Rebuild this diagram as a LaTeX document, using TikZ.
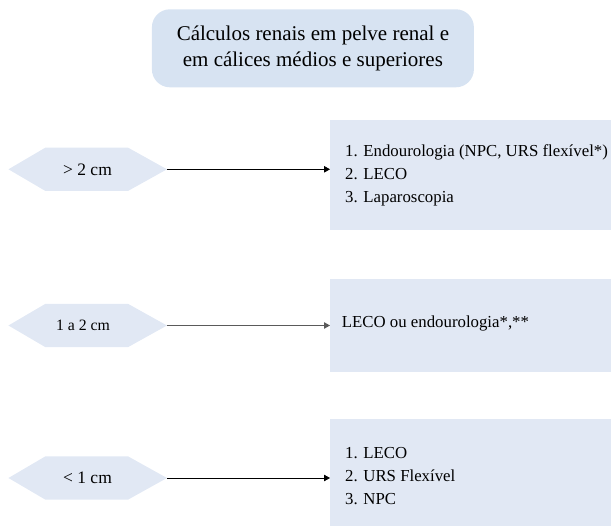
\documentclass[tikz,border=0pt]{standalone}
\usepackage{fontspec}
\setmainfont{Liberation Serif}
\usetikzlibrary{arrows.meta,backgrounds}
\definecolor{titlefill}{HTML}{D7E3F2}
\definecolor{boxfill}{HTML}{E1E8F4}
\definecolor{arrgray}{HTML}{5A5A5A}
\newcommand{\hexfill}[1]{%
  \begin{pgfonlayer}{background}
  \fill[boxfill] (#1.west) -- ([xshift=37pt]#1.north west) -- ([xshift=-39pt]#1.north east) -- (#1.east)
     -- ([xshift=-39pt]#1.south east) -- ([xshift=37pt]#1.south west) -- cycle;
  \end{pgfonlayer}}
\begin{document}
\begin{tikzpicture}[x=1pt,y=-1pt,
  titlebox/.style={fill=titlefill,draw=none,rounded corners=18pt,minimum width=322pt,minimum height=78pt,align=center,inner sep=0pt,font=\fontsize{21}{25.3}\selectfont},
  hexbox/.style={rectangle,draw=none,minimum width=158.5pt,minimum height=43.4pt,inner sep=0pt,outer sep=0pt},
  optbox/.style={fill=boxfill,draw=none,anchor=north west,minimum width=281pt,inner sep=0pt},
  opttext/.style={anchor=west,align=left,inner sep=0pt,font=\fontsize{16.8}{23}\selectfont},
  conn/.style={line width=0.9pt,-{Triangle[length=6pt,width=6.5pt]}}
]
\useasboundingbox (0,0) rectangle (611,526);
\node[titlebox] (title) at (312.9,48.3) {Cálculos renais em pelve renal e\\em cálices médios e superiores};

\node[hexbox] (h1) at (87.7,169.3) {};
\node[hexbox] (h2) at (87.7,325.5) {};
\node[hexbox] (h3) at (87.7,478) {};
\hexfill{h1}\hexfill{h2}\hexfill{h3}
\node[font=\fontsize{17.5}{20}\selectfont,inner sep=0pt] (l1) at (87.5,169.3) {> 2 cm};
\node[font=\fontsize{15.8}{18}\selectfont,inner sep=0pt] (l2) at (83,325.5) {1 a 2 cm};
\node[font=\fontsize{17.5}{20}\selectfont,inner sep=0pt] (l3) at (87.5,478) {< 1 cm};

\node[optbox,minimum height=110pt] (b1) at (330,120) {};
\node[optbox,minimum height=92.4pt] (b2) at (330,279.3) {};
\node[optbox,minimum height=107pt] (b3) at (330,419.3) {};

\node[opttext] (t1) at (345,175) {1. Endourologia (NPC, URS flexível*)\\2. LECO\\3. Laparoscopia};
\node[opttext] (t2) at (341.7,323) {LECO ou endourologia*,**};
\node[opttext] (t3) at (345,476) {1. LECO\\2. URS Flexível\\3. NPC};

\draw[conn] (h1.east) -- (h1.east -| b1.west);
\draw[conn,arrgray] (h2.east) -- (h2.east -| b2.west);
\draw[conn] (h3.east) -- (h3.east -| b3.west);
\end{tikzpicture}
\end{document}
